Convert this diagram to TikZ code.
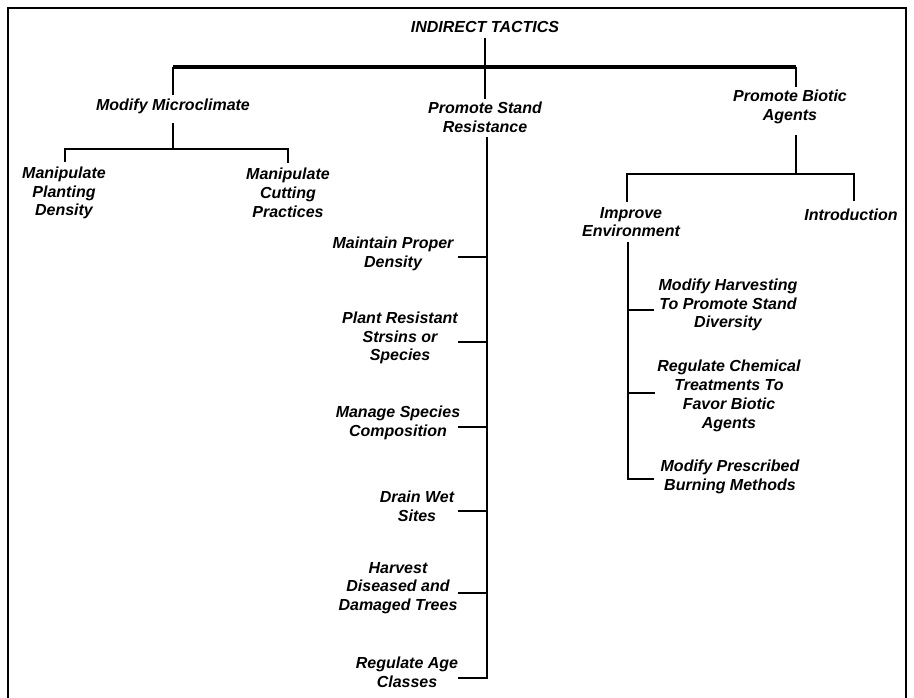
\documentclass[tikz,border=0pt]{standalone}
\usepackage{fontspec}
\setmainfont{Liberation Sans}
\begin{document}
\begin{tikzpicture}[x=1pt,y=-1pt,
  lbl/.style={inner sep=0pt, align=center, font=\fontsize{16}{18.8}\selectfont\bfseries\itshape},
  ln/.style={line width=2pt, line join=miter},
  heavy/.style={line width=3.2pt},
  frame/.style={line width=2.6pt}]
\useasboundingbox (0,0) rectangle (914,698);
% frame
\coordinate (fBL) at (8,700); \coordinate (fTL) at (8,8);
\coordinate (fTR) at (906,8); \coordinate (fBR) at (906,700);
\draw[frame] (fBL) -- (fTL) -- (fTR) -- (fBR);

% nodes
\node[lbl] (root) at (485,27) {INDIRECT TACTICS};
\node[lbl] (mm)   at (173,106) {Modify Microclimate};
\node[lbl] (psr)  at (485,117) {Promote Stand\\Resistance};
\node[lbl] (pba)  at (790,107) {Promote Biotic\\Agents};

\node[lbl] (mpd)  at (64,193) {Manipulate\\Planting\\Density};
\node[lbl] (mcp)  at (288,193) {Manipulate\\Cutting\\Practices};

\node[lbl] (mpden) at (393,254) {Maintain Proper\\Density};
\node[lbl] (prs)   at (400,338) {Plant Resistant\\Strsins or\\Species};
\node[lbl] (msc)   at (398,423) {Manage Species\\Composition};
\node[lbl] (dws)   at (417,506) {Drain Wet\\Sites};
\node[lbl] (hdd)   at (398,588) {Harvest\\Diseased and\\Damaged Trees};
\node[lbl] (rac)   at (407,672) {Regulate Age\\Classes};

\node[lbl] (ie)    at (631,222) {Improve\\Environment};
\node[lbl] (intro) at (851,215) {Introduction};

\node[lbl] (mh)    at (728,305) {Modify Harvesting\\To Promote Stand\\Diversity};
\node[lbl] (rc)    at (729,396) {Regulate Chemical\\Treatments To\\Favor Biotic\\Agents};
\node[lbl] (mpb)   at (730,477) {Modify Prescribed\\Burning Methods};

% level 1
\coordinate (hL) at (173,67);
\coordinate (hM) at (485,67);
\coordinate (hR) at (796,67);
\draw[heavy] (hL) -- (hR);
\draw[ln] (root.center) ++(0,11) -- (hM);
\draw[ln] (hL) -- ([yshift=3pt]hL |- mm.north);
\draw[ln] (hM) -- ([yshift=3pt]hM |- psr.north);
\draw[ln] (hR) -- ([yshift=3pt]hR |- pba.north);

% Modify Microclimate branch
\coordinate (mmj) at (173,149);
\coordinate (mmL) at (65,149);
\coordinate (mmR) at (288,149);
\draw[ln] (mm.center) ++(0,17) -- (mmj);
\draw[ln] ([yshift=-13pt]mmL) -- (mmL) -- (mmR) -- ([yshift=-14pt]mmR);

% Promote Stand Resistance spine
\coordinate (sT) at (487,137);
\coordinate (sB) at (487,678);
\coordinate (s1) at (458,257);
\coordinate (s2) at (458,342);
\coordinate (s3) at (458,427);
\coordinate (s4) at (458,511);
\coordinate (s5) at (458,593);
\coordinate (s6) at (458,678);
\draw[ln] (sT) -- (sB) -- (s6);
\foreach \s in {s1,s2,s3,s4,s5} \draw[ln] (\s) -- (\s -| sT);

% Promote Biotic Agents branch
\coordinate (bj) at (796,174);
\coordinate (bL) at (627,174);
\coordinate (bR) at (854,174);
\coordinate (bT) at (796,135);
\draw[ln] (bT) -- (bj);
\draw[ln] ([yshift=-28pt]bL) -- (bL) -- (bR) -- ([yshift=-27pt]bR);

% Improve Environment spine
\coordinate (eT) at (628,242);
\coordinate (eB) at (628,479);
\coordinate (e1) at (654,310);
\coordinate (e2) at (655,393);
\coordinate (e3) at (654,479);
\draw[ln] (eT) -- (eB) -- (e3);
\foreach \e in {e1,e2} \draw[ln] (\e) -- (\e -| eT);
\end{tikzpicture}
\end{document}
